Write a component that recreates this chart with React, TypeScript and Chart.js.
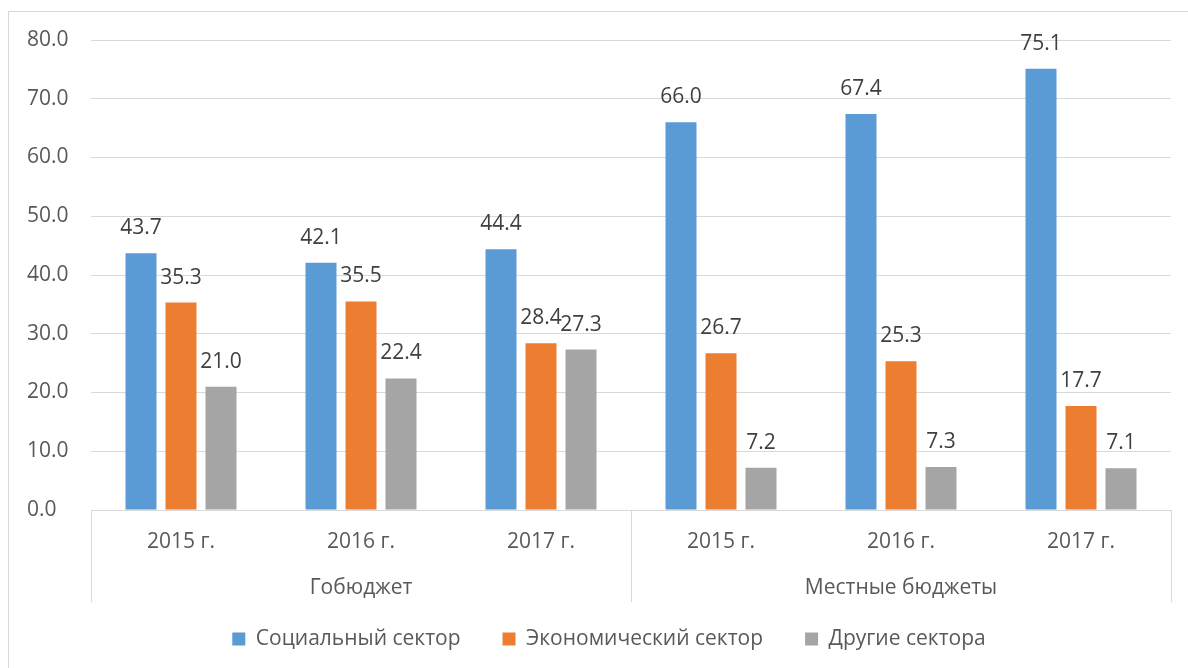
import React, { useEffect, useRef } from "react";
import { Chart, registerables } from "chart.js";

Chart.register(...registerables);

const categories = ["2015 г.", "2016 г.", "2017 г.", "2015 г.", "2016 г.", "2017 г."];
const groups = ["Гобюджет", "Местные бюджеты"];
const seriesNames = ["Социальный сектор", "Экономический сектор", "Другие сектора"];
const social = [43.7, 42.1, 44.4, 66.0, 67.4, 75.1];
const economic = [35.3, 35.5, 28.4, 26.7, 25.3, 17.7];
const other = [21.0, 22.4, 27.3, 7.2, 7.3, 7.1];
const yMin = 0;
const yMax = 80;
const yStep = 10;

const FONT = "'Open Sans', 'Noto Sans', sans-serif";
const GRID = "#d9d9d9";
const TICK = "#595959";

const dataLabels = {
  id: "dataLabels",
  afterDatasetsDraw(chart: any) {
    const ctx = chart.ctx;
    ctx.save();
    ctx.font = `21px ${FONT}`;
    ctx.fillStyle = "#404040";
    ctx.textAlign = "center";
    ctx.textBaseline = "middle";
    chart.data.datasets.forEach((ds: any, di: number) => {
      const meta = chart.getDatasetMeta(di);
      meta.data.forEach((bar: any, i: number) => {
        ctx.fillText(Number(ds.data[i]).toFixed(1), bar.x, bar.y - 25);
      });
    });
    ctx.restore();
  },
};

const dividers = {
  id: "dividers",
  afterDraw(chart: any) {
    const x = chart.scales.x;
    const ctx = chart.ctx;
    const top = chart.chartArea.bottom;
    const bottom = top + 92;
    const n = categories.length;
    const xs = [x.getPixelForValue(-0.5), x.getPixelForValue(n / 2 - 0.5), x.getPixelForValue(n - 0.5)];
    ctx.save();
    ctx.strokeStyle = GRID;
    ctx.lineWidth = 1;
    xs.forEach((px: number) => {
      const p = Math.round(px) + 0.5;
      ctx.beginPath();
      ctx.moveTo(p, top);
      ctx.lineTo(p, bottom);
      ctx.stroke();
    });
    ctx.restore();
  },
};

export default function App() {
  const ref = useRef<HTMLCanvasElement | null>(null);

  useEffect(() => {
    if (!ref.current) return;
    const chart = new Chart(ref.current, {
      type: "bar",
      data: {
        labels: categories,
        datasets: [
          { label: seriesNames[0], data: social, backgroundColor: "#5B9BD5" },
          { label: seriesNames[1], data: economic, backgroundColor: "#ED7D31" },
          { label: seriesNames[2], data: other, backgroundColor: "#A5A5A5" },
        ],
      },
      options: {
        animation: false,
        responsive: false,
        devicePixelRatio: 1,
        categoryPercentage: 0.6667,
        barPercentage: 0.775,
        layout: { padding: { top: 28, left: 38, right: 17, bottom: 8.5 } },
        plugins: {
          tooltip: { enabled: false },
          legend: {
            position: "bottom",
            labels: {
              boxWidth: 13,
              boxHeight: 13,
              padding: 42,
              color: TICK,
              font: { family: FONT, size: 21 },
            },
          },
        },
        scales: {
          x: {
            type: "category",
            position: "bottom",
            weight: 0,
            grid: { display: false, drawTicks: false },
            border: { display: true, color: GRID, width: 1 },
            ticks: { color: TICK, font: { family: FONT, size: 21 }, padding: 19.4, maxRotation: 0, autoSkip: false },
            afterFit: (s: any) => { s.height = 60; },
          },
          x2: {
            type: "category",
            position: "bottom",
            weight: 1,
            labels: groups,
            offset: true,
            grid: { display: false, drawTicks: false },
            border: { display: false },
            ticks: { color: TICK, font: { family: FONT, size: 21 }, mirror: true, padding: -30.6, maxRotation: 0, autoSkip: false },
            afterFit: (s: any) => { s.height = 16.5; },
          },
          y: {
            min: yMin,
            max: yMax,
            grid: { color: GRID, lineWidth: 1, drawTicks: false },
            border: { display: false },
            ticks: {
              stepSize: yStep,
              color: TICK,
              mirror: true,
              padding: -64,
              font: { family: FONT, size: 21 },
              callback: (v: any) => Number(v).toFixed(1),
            },
            afterFit: (s: any) => { s.width = 44; },
          },
        },
      },
      plugins: [dataLabels, dividers],
    });
    return () => chart.destroy();
  }, []);

  return (
    <div
      style={{
        position: "absolute",
        left: 8,
        top: 11,
        width: 1180,
        height: 657,
        boxSizing: "border-box",
        borderTop: `1px solid ${GRID}`,
        borderLeft: `1px solid ${GRID}`,
        background: "#fff",
      }}
    >
      <canvas ref={ref} width={1179} height={656} style={{ display: "block", width: 1179, height: 656 }} />
    </div>
  );
}
